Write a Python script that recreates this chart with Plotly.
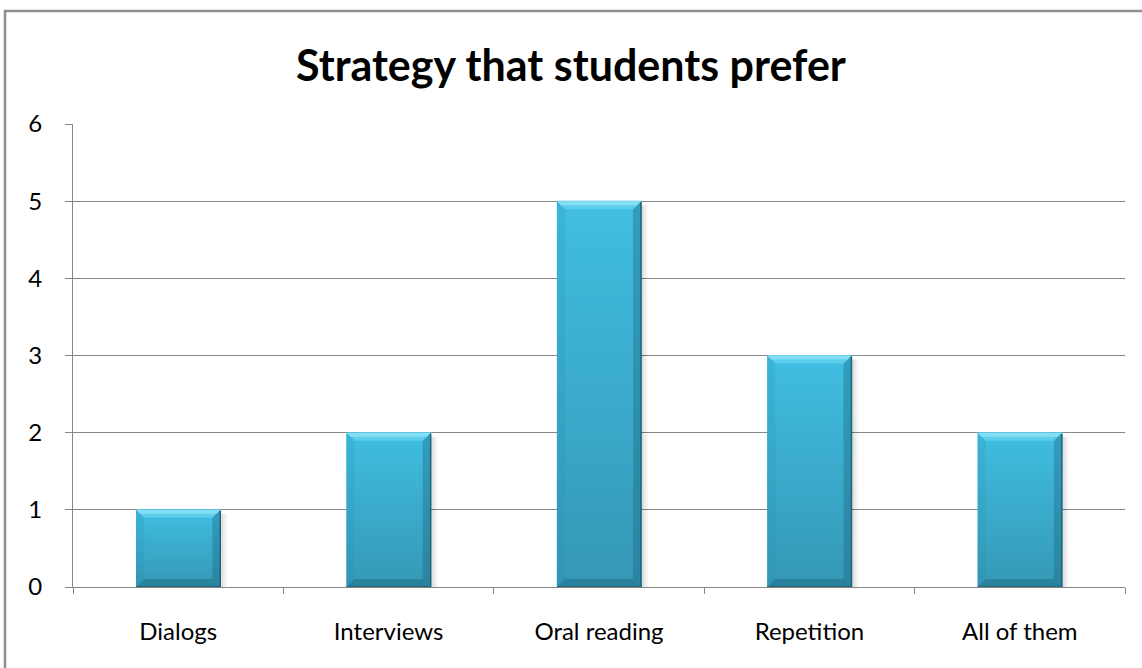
import plotly.graph_objects as go

# Survey results
categories = ["Dialogs", "Interviews", "Oral reading", "Repetition", "All of them"]
counts = [1, 2, 5, 3, 2]
y_ticks = [0, 1, 2, 3, 4, 5, 6]
chart_title = "Strategy that students prefer"

# Page and plot geometry (pixels)
W, H = 1142, 668
ML, MR, MT, MB = 73, 17, 124, 81
plot_w = W - ML - MR
plot_h = H - MT - MB
YMAX = y_ticks[-1]
px_x = plot_w / len(categories)
px_y = plot_h / YMAX
BAR_W = 0.4

GRID = "#868686"
FONT = "Lato, 'Open Sans', sans-serif"


def dx(p):
    return p / px_x


def dy(p):
    return p / px_y


def hex_to_rgb(h):
    h = h.lstrip("#")
    return tuple(int(h[i:i + 2], 16) for i in (0, 2, 4))


def mix(c0, c1, t):
    a, b = hex_to_rgb(c0), hex_to_rgb(c1)
    return "rgb({},{},{})".format(*[round(a[k] + (b[k] - a[k]) * t) for k in range(3)])


def poly(pts):
    return "M " + " L ".join(f"{x},{y}" for x, y in pts) + " Z"


fig = go.Figure()
fig.add_trace(go.Bar(
    x=categories, y=counts, width=BAR_W,
    marker=dict(color="#3ab2d5", line=dict(width=0)),
    hovertemplate="%{x}: %{y}<extra></extra>",
))

shapes = []
bev = 8
for i, v in enumerate(counts):
    x0, x1 = i - BAR_W / 2, i + BAR_W / 2
    # soft drop shadow on the right
    for k, a in ((7, 0.03), (5, 0.04), (3, 0.05)):
        shapes.append(dict(type="rect", xref="x", yref="y", layer="between",
                           x0=x1, x1=x1 + dx(k), y0=0, y1=v - dy(4),
                           fillcolor=f"rgba(0,0,0,{a})", line=dict(width=0)))
    # vertical body gradient
    n = 40
    for k in range(n):
        ya, yb = v * k / n, v * (k + 1) / n
        shapes.append(dict(type="rect", xref="x", yref="y", layer="above",
                           x0=x0, x1=x1, y0=ya, y1=yb + dy(0.5),
                           fillcolor=mix("#3598b5", "#40bee2", (k + 0.5) / n),
                           line=dict(width=0)))
    # left bevel
    shapes.append(dict(type="path", xref="x", yref="y", layer="above",
                       path=poly([(x0, 0), (x0, v), (x0 + dx(bev), v - dy(bev)), (x0 + dx(bev), dy(bev))]),
                       fillcolor="rgba(40,140,170,0.18)", line=dict(width=0)))
    # right bevel
    shapes.append(dict(type="path", xref="x", yref="y", layer="above",
                       path=poly([(x1, 0), (x1, v), (x1 - dx(bev), v - dy(bev)), (x1 - dx(bev), dy(bev))]),
                       fillcolor="rgba(25,95,120,0.35)", line=dict(width=0)))
    # bottom bevel
    shapes.append(dict(type="path", xref="x", yref="y", layer="above",
                       path=poly([(x0, 0), (x1, 0), (x1 - dx(bev), dy(bev)), (x0 + dx(bev), dy(bev))]),
                       fillcolor="rgba(25,95,120,0.4)", line=dict(width=0)))
    # top bevel (bright highlight)
    shapes.append(dict(type="path", xref="x", yref="y", layer="above",
                       path=poly([(x0, v), (x1, v), (x1 - dx(bev), v - dy(bev)), (x0 + dx(bev), v - dy(bev))]),
                       fillcolor="#5ccdec", line=dict(width=0)))
    shapes.append(dict(type="path", xref="x", yref="y", layer="above",
                       path=poly([(x0, v), (x1, v), (x1 - dx(bev / 2), v - dy(bev / 2)), (x0 + dx(bev / 2), v - dy(bev / 2))]),
                       fillcolor="#84def4", line=dict(width=0)))
    # dark right edge and base line
    shapes.append(dict(type="line", xref="x", yref="y", layer="above",
                       x0=x1, x1=x1, y0=0, y1=v - dy(1),
                       line=dict(color="#1d6479", width=1.5)))
    shapes.append(dict(type="line", xref="x", yref="y", layer="above",
                       x0=x0, x1=x1, y0=dy(0.5), y1=dy(0.5),
                       line=dict(color="#22677c", width=1)))

# outer chart border
shapes.append(dict(type="rect", xref="paper", yref="paper", layer="above",
                   x0=(5 - ML) / plot_w, x1=(W + 20 - ML) / plot_w,
                   y0=-(MB + 20) / plot_h, y1=(H - MB - 11) / plot_h,
                   line=dict(color="#8f8f8f", width=2.5), fillcolor="rgba(0,0,0,0)"))

fig.update_layout(
    width=W, height=H,
    margin=dict(l=ML, r=MR, t=MT, b=MB),
    paper_bgcolor="white", plot_bgcolor="white",
    showlegend=False,
    bargap=1 - BAR_W,
    font=dict(family=FONT, color="black", size=24),
    title=dict(text=f"<b>{chart_title}</b>", x=0.5, xref="container", xanchor="center",
               y=1 - 66 / H, yref="container", yanchor="middle",
               font=dict(family=FONT, size=43, color="black")),
    shapes=shapes,
)
fig.update_xaxes(
    type="category", range=[-0.5, len(categories) - 0.5],
    showline=True, linecolor=GRID, linewidth=1,
    ticks="outside", tickson="boundaries", ticklen=6, tickcolor=GRID,
    ticklabelstandoff=23, showgrid=False,
    tickfont=dict(size=24, family=FONT, color="black"),
)
fig.update_yaxes(
    range=[0, YMAX], tickvals=y_ticks,
    showline=True, linecolor=GRID, linewidth=1,
    ticks="outside", ticklen=7, tickcolor=GRID,
    showgrid=True, gridcolor=GRID, gridwidth=1, zeroline=False,
    ticklabelstandoff=18,
    tickfont=dict(size=24, family=FONT, color="black"),
)

fig.write_html("out.html")
